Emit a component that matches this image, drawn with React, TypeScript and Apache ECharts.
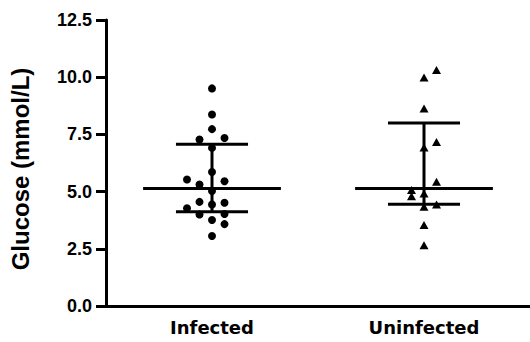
import React, { useEffect, useRef } from "react";
import * as echarts from "echarts";

// Groups shown along the x axis
const categories = ["Infected", "Uninfected"];

// Glucose readings (mmol/L) per subject
const infectedValues = [
  9.51, 8.37, 7.73, 7.28, 7.34, 6.91, 5.86, 5.53, 5.31, 5.45,
  5.03, 4.55, 4.44, 4.51, 4.27, 4.0, 4.02, 3.76, 3.58, 3.06,
];
// Scatter column of each reading (0 = centred on the group)
const infectedLanes = [0, 0, 0, -1, 1, 0, 0, -2, -1, 1, 0, -1, 0, 1, -2, -1, 1, 0, 1, 0];

const uninfectedValues = [
  10.31, 9.99, 8.63, 7.17, 6.93, 5.43, 5.07, 4.8, 4.92, 4.34, 4.44, 3.54, 2.66,
];
const uninfectedLanes = [1, 0, 0, 1, 0, 1, -1, -1, 0, 0, 1, 0, 0];

// Median with interquartile range per group
const medians = [5.14, 5.14];
const lowerQuartiles = [4.12, 4.45];
const upperQuartiles = [7.07, 8.0];

// Y axis tick values
const yTicks = [0, 2.5, 5, 7.5, 10, 12.5];

const LANE_STEP = 0.059;
const MEDIAN_HALF = 0.325;
const QUART_HALF = 0.17;
const FONT = "'Liberation Sans', Arial, sans-serif";

export default function App() {
  const ref = useRef<HTMLDivElement>(null);

  useEffect(() => {
    if (!ref.current) return;
    const chart = echarts.init(ref.current, undefined, { renderer: "svg" });

    const infectedPoints = infectedValues.map((v, i) => [1 + infectedLanes[i] * LANE_STEP, v]);
    const uninfectedPoints = uninfectedValues.map((v, i) => [2 + uninfectedLanes[i] * LANE_STEP, v]);
    const summary = categories.map((_, i) => [i + 1, medians[i], lowerQuartiles[i], upperQuartiles[i]]);

    const lineStyle = { stroke: "#000", lineWidth: 3 };

    chart.setOption({
      animation: false,
      grid: { left: 101, right: 0, top: 20, bottom: 36, containLabel: false },
      xAxis: [
        {
          type: "category",
          data: categories,
          boundaryGap: true,
          axisLine: { lineStyle: { color: "#000", width: 3 } },
          axisTick: { alignWithLabel: true, length: 6, lineStyle: { color: "#000", width: 3 } },
          axisLabel: {
            color: "#000",
            fontSize: 18,
            fontWeight: "bold",
            fontFamily: "'DejaVu Sans', sans-serif",
            margin: 12,
          },
          splitLine: { show: false },
        },
        { type: "value", min: 0.5, max: 2.5, show: false },
      ],
      yAxis: {
        type: "value",
        min: yTicks[0],
        max: yTicks[yTicks.length - 1],
        interval: 2.5,
        name: "Glucose (mmol/L)",
        nameLocation: "middle",
        nameRotate: 90,
        nameGap: 74,
        nameTextStyle: {
          color: "#000",
          fontSize: 24,
          fontWeight: "bold",
          fontFamily: FONT,
          padding: [0, 12, 0, 0],
        },
        axisLine: { show: true, lineStyle: { color: "#000", width: 3 } },
        axisTick: { show: true, length: 10, lineStyle: { color: "#000", width: 3 } },
        axisLabel: {
          color: "#000",
          fontSize: 18,
          fontWeight: "bold",
          fontFamily: FONT,
          margin: 14,
          formatter: (v: number) => v.toFixed(1),
        },
        splitLine: { show: false },
      },
      series: [
        {
          type: "custom",
          xAxisIndex: 1,
          data: summary,
          z: 1,
          renderItem: (params: any, api: any) => {
            const x = api.value(0);
            const med = api.value(1);
            const q1 = api.value(2);
            const q3 = api.value(3);
            const pMedL = api.coord([x - MEDIAN_HALF, med]);
            const pMedR = api.coord([x + MEDIAN_HALF, med]);
            const pQ1L = api.coord([x - QUART_HALF, q1]);
            const pQ1R = api.coord([x + QUART_HALF, q1]);
            const pQ3L = api.coord([x - QUART_HALF, q3]);
            const pQ3R = api.coord([x + QUART_HALF, q3]);
            const pLo = api.coord([x, q1]);
            const pHi = api.coord([x, q3]);
            return {
              type: "group",
              children: [
                { type: "line", shape: { x1: pMedL[0], y1: pMedL[1], x2: pMedR[0], y2: pMedR[1] }, style: lineStyle },
                { type: "line", shape: { x1: pQ1L[0], y1: pQ1L[1], x2: pQ1R[0], y2: pQ1R[1] }, style: lineStyle },
                { type: "line", shape: { x1: pQ3L[0], y1: pQ3L[1], x2: pQ3R[0], y2: pQ3R[1] }, style: lineStyle },
                { type: "line", shape: { x1: pLo[0], y1: pLo[1], x2: pHi[0], y2: pHi[1] }, style: lineStyle },
              ],
            };
          },
        },
        {
          name: categories[0],
          type: "scatter",
          xAxisIndex: 1,
          data: infectedPoints,
          symbol: "circle",
          symbolSize: 8,
          itemStyle: { color: "#000", opacity: 1 },
          z: 2,
        },
        {
          name: categories[1],
          type: "scatter",
          xAxisIndex: 1,
          data: uninfectedPoints,
          symbol: "triangle",
          symbolSize: [9, 8],
          itemStyle: { color: "#000", opacity: 1 },
          z: 2,
        },
      ],
    });

    return () => chart.dispose();
  }, []);

  return (
    <div
      ref={ref}
      style={{ position: "fixed", left: 0, top: 0, width: 530, height: 342, background: "#fff" }}
    />
  );
}
